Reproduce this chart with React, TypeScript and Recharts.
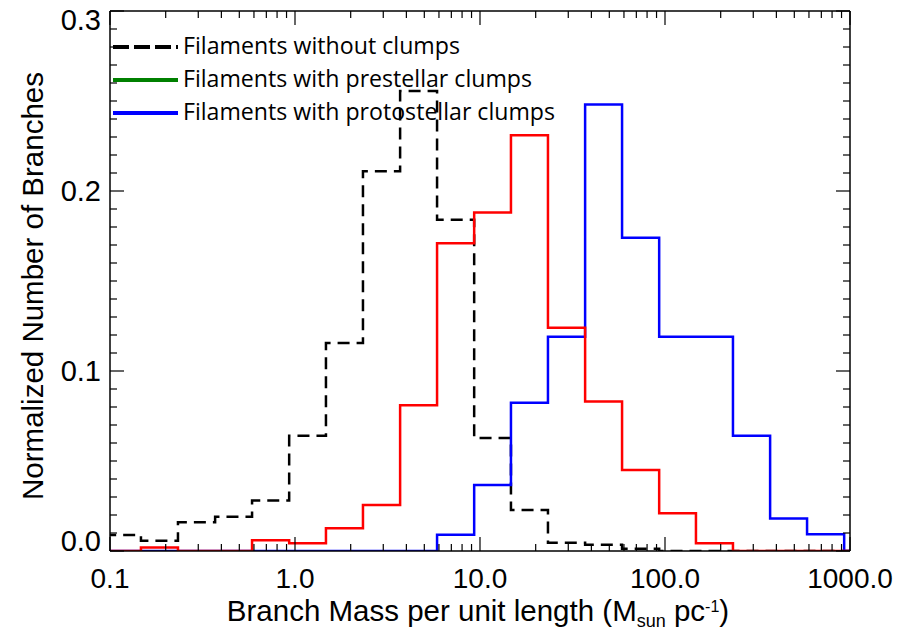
import { ComposedChart, Line, XAxis, YAxis, Legend } from "recharts";

// left edges of the log bins (last two rows close the histogram)
const binEdges = [
  0.093, 0.147, 0.233, 0.37, 0.586, 0.93, 1.47, 2.33, 3.7, 5.86, 9.3, 14.7,
  23.3, 37, 58.6, 93, 147, 233, 370, 586, 930, 1000,
];

const withoutClumps = [
  0.0089, 0.0057, 0.016, 0.019, 0.028, 0.064, 0.1156, 0.211, 0.2556, 0.184,
  0.0628, 0.0228, 0.0046, 0.0035, 0.0012, 0, 0, 0, 0, 0, 0, 0,
];
const prestellar = [
  0, 0.002, 0, 0, 0.006, 0.0043, 0.0126, 0.0256, 0.081, 0.171, 0.188, 0.231,
  0.124, 0.083, 0.045, 0.021, 0.0043, 0, 0, 0, 0, 0,
];
const protostellar = [
  0, 0, 0, 0, 0, 0, 0, 0, 0, 0.009, 0.0367, 0.0824, 0.119, 0.248, 0.174,
  0.119, 0.119, 0.064, 0.018, 0.0093, 0, 0,
];

const xMajor = [0.1, 1, 10, 100, 1000];
const xMajorLabels = ["0.1", "1.0", "10.0", "100.0", "1000.0"];
const yMajor = [0, 0.1, 0.2, 0.3];
const yMajorLabels = ["0.0", "0.1", "0.2", "0.3"];

const legendItems = [
  { label: "Filaments without clumps", color: "#000", dash: "16 5", len: 277 },
  { label: "Filaments with prestellar clumps", color: "#008000", dash: undefined, len: 349 },
  { label: "Filaments with protostellar clumps", color: "#0000ff", dash: undefined, len: 372 },
];

const rows = binEdges.map((x, i) => ({
  x,
  without: withoutClumps[i],
  pre: prestellar[i],
  proto: protostellar[i],
}));

// minor ticks: 1..9 per decade
const xTicks: number[] = [];
xMajor.slice(0, 4).forEach((d) => {
  for (let k = 1; k <= 9; k++) xTicks.push(+(d * k).toPrecision(3));
});
xTicks.push(1000);
const yTicks = Array.from({ length: 31 }, (_, i) => +(i * 0.01).toFixed(2));

const FONT = "'Liberation Sans', Arial, Helvetica, sans-serif";
const axisStyle = { stroke: "#000", strokeWidth: 1.5 };

const isMajor = (arr: number[], v: number) => arr.some((m) => Math.abs(m - v) < 1e-9);

function BottomTick(props: any) {
  const { x, y, payload } = props;
  const idx = xMajor.findIndex((m) => Math.abs(m - payload.value) < 1e-9);
  const major = idx >= 0;
  return (
    <g>
      <line x1={x} x2={x} y1={y} y2={y - (major ? 14 : 7)} stroke="#000" strokeWidth={1.2} />
      {major && (
        <text x={x} y={y + 37} textAnchor="middle" fontFamily={FONT} fontSize={28} fill="#000">
          {xMajorLabels[idx]}
        </text>
      )}
    </g>
  );
}

function TopTick(props: any) {
  const { x, y, payload } = props;
  const major = isMajor(xMajor, payload.value);
  return <line x1={x} x2={x} y1={y} y2={y + (major ? 14 : 7)} stroke="#000" strokeWidth={1.2} />;
}

function LeftTick(props: any) {
  const { x, y, payload } = props;
  const idx = yMajor.findIndex((m) => Math.abs(m - payload.value) < 1e-9);
  const major = idx >= 0;
  // IDL nudges the end labels inside the frame
  const shift = idx === 3 ? 9 : idx === 0 ? -10 : 0;
  return (
    <g>
      <line x1={x} x2={x + (major ? 14 : 7)} y1={y} y2={y} stroke="#000" strokeWidth={1.2} />
      {major && (
        <text x={x - 9} y={y + 10 + shift} textAnchor="end" fontFamily={FONT} fontSize={29} fill="#000">
          {yMajorLabels[idx]}
        </text>
      )}
    </g>
  );
}

function RightTick(props: any) {
  const { x, y, payload } = props;
  const major = isMajor(yMajor, payload.value);
  return <line x1={x} x2={x - (major ? 14 : 7)} y1={y} y2={y} stroke="#000" strokeWidth={1.2} />;
}

function XTitle() {
  return (
    <text x={478} y={621} textAnchor="middle" fontFamily={FONT} fontSize={29.5} fill="#000">
      Branch Mass per unit length (M
      <tspan fontSize={18} dy={6}>sun</tspan>
      <tspan dy={-6}> pc</tspan>
      <tspan fontSize={16} dy={-9}>-1</tspan>
      <tspan dy={9}>)</tspan>
    </text>
  );
}

function YTitle() {
  return (
    <text
      x={43}
      y={286}
      transform="rotate(-90 43 286)"
      textAnchor="middle"
      fontFamily={FONT}
      fontSize={29.5}
      fill="#000"
    >
      Normalized Number of Branches
    </text>
  );
}

function LegendBox() {
  return (
    <svg width={480} height={110} style={{ display: "block" }}>
      {legendItems.map((it, i) => {
        const cy = 17 + i * 33;
        return (
          <g key={it.label}>
            <line x1={3} x2={68} y1={cy} y2={cy} stroke={it.color} strokeWidth={4} strokeDasharray={it.dash} />
            <text
              x={73}
              y={cy + 7}
              fontFamily="'Open Sans', 'Noto Sans', sans-serif"
              fontSize={23}
              textLength={it.len}
              lengthAdjust="spacingAndGlyphs"
              fill="#000"
            >
              {it.label}
            </text>
          </g>
        );
      })}
    </svg>
  );
}

export default function App() {
  return (
    <div style={{ position: "absolute", left: 0, top: 0, background: "#fff" }}>
      <ComposedChart width={899} height={632} data={rows} margin={{ top: 10, right: 48, bottom: 0, left: 8 }}>
        <XAxis
          xAxisId="b"
          dataKey="x"
          type="number"
          scale="log"
          domain={[0.1, 1000]}
          allowDataOverflow
          ticks={xTicks}
          interval={0}
          tickSize={0}
          tickMargin={0}
          tickLine={false}
          height={81}
          axisLine={axisStyle}
          tick={(p: any) => <BottomTick {...p} />}
          label={<XTitle />}
        />
        <XAxis
          xAxisId="t"
          dataKey="x"
          orientation="top"
          type="number"
          scale="log"
          domain={[0.1, 1000]}
          allowDataOverflow
          ticks={xTicks}
          interval={0}
          tickSize={0}
          tickMargin={0}
          tickLine={false}
          height={1}
          axisLine={axisStyle}
          tick={(p: any) => <TopTick {...p} />}
        />
        <YAxis
          yAxisId="l"
          type="number"
          domain={[0, 0.3]}
          allowDataOverflow
          ticks={yTicks}
          interval={0}
          tickSize={0}
          tickMargin={0}
          tickLine={false}
          width={102}
          axisLine={axisStyle}
          tick={(p: any) => <LeftTick {...p} />}
          label={<YTitle />}
        />
        <YAxis
          yAxisId="r"
          orientation="right"
          type="number"
          domain={[0, 0.3]}
          allowDataOverflow
          ticks={yTicks}
          interval={0}
          tickSize={0}
          tickMargin={0}
          tickLine={false}
          width={1}
          axisLine={axisStyle}
          tick={(p: any) => <RightTick {...p} />}
        />
        <Legend
          layout="horizontal"
          verticalAlign="middle"
          align="center"
          wrapperStyle={{ position: "absolute", left: 110, top: 30, width: 480 }}
          content={() => <LegendBox />}
        />
        <Line
          xAxisId="b"
          yAxisId="l"
          dataKey="without"
          type="stepAfter"
          stroke="#000"
          strokeWidth={2.5}
          strokeDasharray="12 7"
          dot={false}
          isAnimationActive={false}
        />
        <Line
          xAxisId="b"
          yAxisId="l"
          dataKey="proto"
          type="stepAfter"
          stroke="#0000ff"
          strokeWidth={2.5}
          dot={false}
          isAnimationActive={false}
        />
        <Line
          xAxisId="b"
          yAxisId="l"
          dataKey="pre"
          type="stepAfter"
          stroke="#ff0000"
          strokeWidth={2.5}
          dot={false}
          isAnimationActive={false}
        />
      </ComposedChart>
    </div>
  );
}
